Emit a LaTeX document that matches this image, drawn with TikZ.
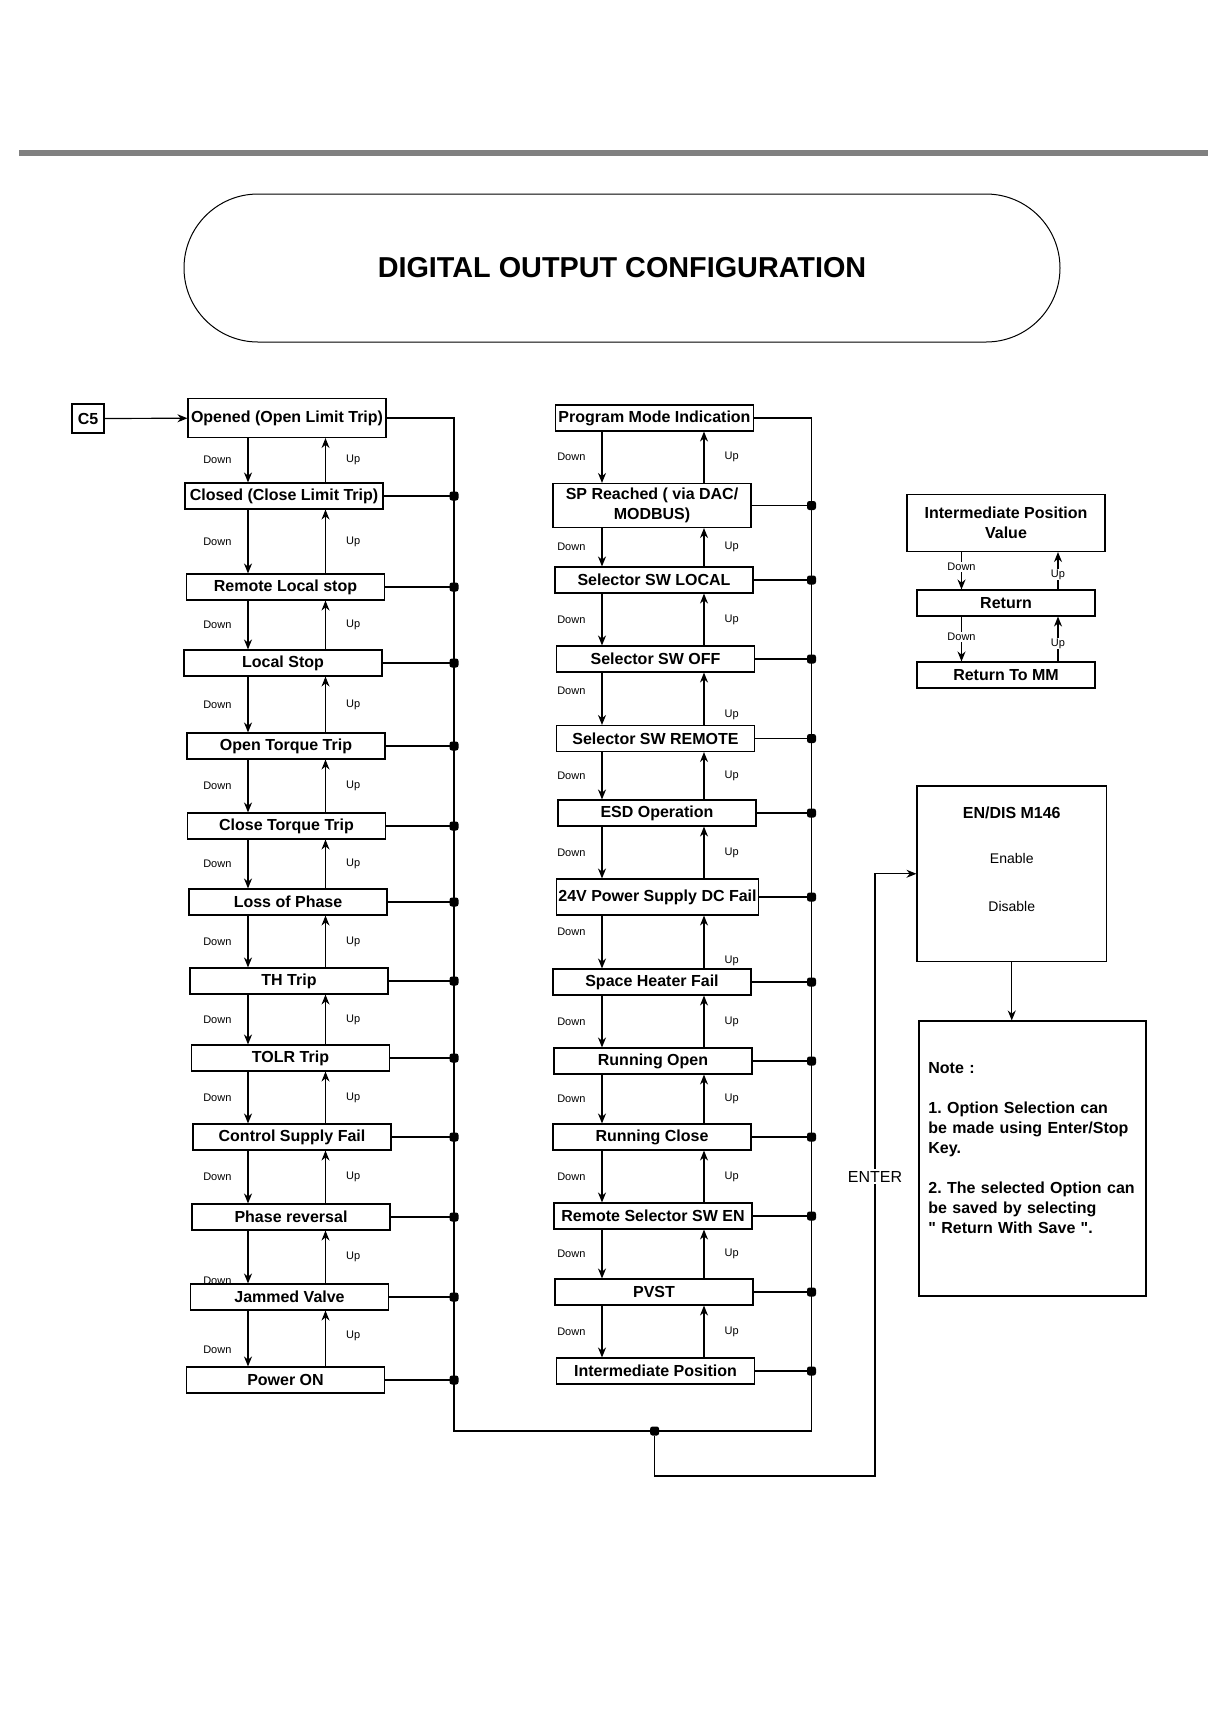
\documentclass[tikz,border=0pt]{standalone}
\usepackage{fontspec}
\setmainfont{Liberation Sans}
\usetikzlibrary{arrows.meta}
\definecolor{bargray}{HTML}{808080}
\tikzset{
  dobox/.style={
    draw,
    line width=0.55pt,
    minimum width=99pt,
    minimum height=13pt,
    inner sep=1pt,
    align=center,
    font=\fontsize{8}{10}\selectfont\bfseries
  },
  smallbox/.style={
    dobox,
    minimum width=89pt
  },
  keylbl/.style={
    font=\fontsize{5.5}{6}\selectfont,
    inner sep=1pt
  },
  dnlbl/.style={keylbl, midway, left=7pt},
  uplbl/.style={keylbl, midway, right=9pt},
  onlbl/.style={keylbl, fill=white, inner sep=0.5pt},
  busdot/.style={
    fill,
    rectangle,
    rounded corners=1.2pt,
    minimum size=4.5pt,
    inner sep=0pt
  },
  navarrow/.style={
    -{Stealth[length=5pt,width=4pt]},
    line width=0.6pt
  },
  busline/.style={line width=0.6pt}
}

\begin{document}
\begin{tikzpicture}[x=0.5pt, y=-0.5pt]
    \useasboundingbox (0,0) rectangle (1227,1720);

    % header
    \draw[bargray, line width=2.7pt] (19,153) -- (1208,153);
    \node[draw, line width=0.5pt, minimum width=438pt, minimum height=74pt,
          rounded corners=37pt, font=\fontsize{14.4}{17}\selectfont\bfseries]
        (title) at (622,268) {DIGITAL OUTPUT CONFIGURATION};

    % helper coordinates
    \coordinate (ldown) at (248,0);
    \coordinate (lup) at (325.5,0);
    \coordinate (mdown) at (602,0);
    \coordinate (mup) at (704,0);
    \coordinate (rdown) at (961.5,0);
    \coordinate (rup) at (1058,0);
    \coordinate (lbus) at (454,1431);
    \coordinate (rbus) at (811.5,1431);
    \coordinate (jn) at (654.6,1431);

    % left column
    \node[dobox, minimum width=16pt, minimum height=14.5pt, inner sep=1.5pt] (c5) at (88,418.5) {C5};
    \node[dobox, minimum height=19.5pt] (opened) at (287,418) {Opened (Open Limit Trip)};
    \node[dobox] (closed) at (284,496) {Closed (Close Limit Trip)};
    \node[dobox] (remstop) at (285.5,587) {Remote Local stop};
    \node[dobox] (locstop) at (283,663) {Local Stop};
    \node[dobox] (opentrq) at (286,746) {Open Torque Trip};
    \node[dobox] (closetrq) at (286.5,826) {Close Torque Trip};
    \node[dobox] (lossph) at (288,902) {Loss of Phase};
    \node[dobox] (thtrip) at (289,981) {TH Trip};
    \node[dobox] (tolr) at (290.5,1058) {TOLR Trip};
    \node[dobox] (ctrlsup) at (292,1137) {Control Supply Fail};
    \node[dobox] (phrev) at (291,1217) {Phase reversal};
    \node[dobox] (jammed) at (289.5,1297) {Jammed Valve};
    \node[dobox] (poweron) at (285.5,1380) {Power ON};

    % middle column
    \node[dobox] (prog) at (654.5,418) {Program Mode Indication};
    \node[dobox, minimum height=22pt] (spreach) at (652,505.5) {SP Reached ( via DAC/\\MODBUS)};
    \node[dobox] (swlocal) at (654,580) {Selector SW LOCAL};
    \node[dobox] (swoff) at (655.5,659) {Selector SW OFF};
    \node[dobox] (swremote) at (655.5,738.5) {Selector SW REMOTE};
    \node[dobox] (esd) at (657,813) {ESD Operation};
    \node[dobox, minimum height=18pt] (psfail) at (657.5,897) {24V Power Supply DC Fail};
    \node[dobox] (heater) at (652,982) {Space Heater Fail};
    \node[dobox] (runopen) at (653,1061) {Running Open};
    \node[dobox] (runclose) at (652,1137) {Running Close};
    \node[dobox] (rsen) at (653,1216) {Remote Selector SW EN};
    \node[dobox] (pvst) at (654,1292) {PVST};
    \node[dobox] (intpos) at (655.5,1371) {Intermediate Position};

    % right side
    \node[dobox, minimum height=28.5pt] (ipval) at (1006,523) {Intermediate Position\\Value};
    \node[smallbox] (ret) at (1006,603) {Return};
    \node[smallbox] (retmm) at (1006,675) {Return To MM};
    \node[draw, line width=0.55pt, minimum width=94.75pt, minimum height=87.75pt] (endis) at (1011.75,873.75) {};
    \node[font=\fontsize{8}{10}\selectfont\bfseries] (endistitle) at (1011.75,813) {EN/DIS M146};
    \node[font=\fontsize{7}{9}\selectfont] (enable) at (1011.75,858) {Enable};
    \node[font=\fontsize{7}{9}\selectfont] (disable) at (1011.75,906) {Disable};
    \node[draw, line width=0.55pt, minimum width=113.5pt, minimum height=137.5pt] (note) at (1032.5,1158.5) {};
    \node[text width=105pt, align=left, inner sep=0pt, anchor=north west,
          font=\fontsize{8}{10}\selectfont\bfseries\frenchspacing] (notetext) at (928,1062) {%
        Note :\\[10pt]
        1. Option Selection can\\
        be made using Enter/Stop\\
        Key.\\[10pt]
        2. The selected Option can\\
        be saved by selecting\\
        \textquotedbl{} Return With Save \textquotedbl.};
    \node[font=\fontsize{8}{10}\selectfont, fill=white, inner sep=1pt] (enter) at (875,1176.5) {ENTER};

    % entry
    \draw[navarrow] (c5) -- (opened);

    % left column keys
    \draw[navarrow] (opened.south -| ldown) -- node[dnlbl]{Down} (closed.north -| ldown);
    \draw[navarrow] (closed.north -| lup) -- node[uplbl]{Up} (opened.south -| lup);
    \draw[navarrow] (closed.south -| ldown) -- node[dnlbl]{Down} (remstop.north -| ldown);
    \draw[navarrow] (remstop.north -| lup) -- node[uplbl]{Up} (closed.south -| lup);
    \draw[navarrow] (remstop.south -| ldown) -- node[dnlbl]{Down} (locstop.north -| ldown);
    \draw[navarrow] (locstop.north -| lup) -- node[uplbl]{Up} (remstop.south -| lup);
    \draw[navarrow] (locstop.south -| ldown) -- node[dnlbl]{Down} (opentrq.north -| ldown);
    \draw[navarrow] (opentrq.north -| lup) -- node[uplbl]{Up} (locstop.south -| lup);
    \draw[navarrow] (opentrq.south -| ldown) -- node[dnlbl]{Down} (closetrq.north -| ldown);
    \draw[navarrow] (closetrq.north -| lup) -- node[uplbl]{Up} (opentrq.south -| lup);
    \draw[navarrow] (closetrq.south -| ldown) -- node[dnlbl]{Down} (lossph.north -| ldown);
    \draw[navarrow] (lossph.north -| lup) -- node[uplbl]{Up} (closetrq.south -| lup);
    \draw[navarrow] (lossph.south -| ldown) -- node[dnlbl]{Down} (thtrip.north -| ldown);
    \draw[navarrow] (thtrip.north -| lup) -- node[uplbl]{Up} (lossph.south -| lup);
    \draw[navarrow] (thtrip.south -| ldown) -- node[dnlbl]{Down} (tolr.north -| ldown);
    \draw[navarrow] (tolr.north -| lup) -- node[uplbl]{Up} (thtrip.south -| lup);
    \draw[navarrow] (tolr.south -| ldown) -- node[dnlbl]{Down} (ctrlsup.north -| ldown);
    \draw[navarrow] (ctrlsup.north -| lup) -- node[uplbl]{Up} (tolr.south -| lup);
    \draw[navarrow] (ctrlsup.south -| ldown) -- node[dnlbl]{Down} (phrev.north -| ldown);
    \draw[navarrow] (phrev.north -| lup) -- node[uplbl]{Up} (ctrlsup.south -| lup);
    \draw[navarrow] (phrev.south -| ldown) -- node[dnlbl, pos=0.95]{Down} (jammed.north -| ldown);
    \draw[navarrow] (jammed.north -| lup) -- node[uplbl]{Up} (phrev.south -| lup);
    \draw[navarrow] (jammed.south -| ldown) -- node[dnlbl, pos=0.7]{Down} (poweron.north -| ldown);
    \draw[navarrow] (poweron.north -| lup) -- node[uplbl, pos=0.55]{Up} (jammed.south -| lup);

    % middle column keys
    \draw[navarrow] (prog.south -| mdown) -- node[dnlbl]{Down} (spreach.north -| mdown);
    \draw[navarrow] (spreach.north -| mup) -- node[uplbl]{Up} (prog.south -| mup);
    \draw[navarrow] (spreach.south -| mdown) -- node[dnlbl]{Down} (swlocal.north -| mdown);
    \draw[navarrow] (swlocal.north -| mup) -- node[uplbl]{Up} (spreach.south -| mup);
    \draw[navarrow] (swlocal.south -| mdown) -- node[dnlbl]{Down} (swoff.north -| mdown);
    \draw[navarrow] (swoff.north -| mup) -- node[uplbl]{Up} (swlocal.south -| mup);
    \draw[navarrow] (swoff.south -| mdown) -- node[dnlbl, pos=0.35]{Down} (swremote.north -| mdown);
    \draw[navarrow] (swremote.north -| mup) -- node[uplbl, pos=0.2]{Up} (swoff.south -| mup);
    \draw[navarrow] (swremote.south -| mdown) -- node[dnlbl]{Down} (esd.north -| mdown);
    \draw[navarrow] (esd.north -| mup) -- node[uplbl]{Up} (swremote.south -| mup);
    \draw[navarrow] (esd.south -| mdown) -- node[dnlbl]{Down} (psfail.north -| mdown);
    \draw[navarrow] (psfail.north -| mup) -- node[uplbl]{Up} (esd.south -| mup);
    \draw[navarrow] (psfail.south -| mdown) -- node[dnlbl, pos=0.3]{Down} (heater.north -| mdown);
    \draw[navarrow] (heater.north -| mup) -- node[uplbl, pos=0.15]{Up} (psfail.south -| mup);
    \draw[navarrow] (heater.south -| mdown) -- node[dnlbl]{Down} (runopen.north -| mdown);
    \draw[navarrow] (runopen.north -| mup) -- node[uplbl]{Up} (heater.south -| mup);
    \draw[navarrow] (runopen.south -| mdown) -- node[dnlbl]{Down} (runclose.north -| mdown);
    \draw[navarrow] (runclose.north -| mup) -- node[uplbl]{Up} (runopen.south -| mup);
    \draw[navarrow] (runclose.south -| mdown) -- node[dnlbl]{Down} (rsen.north -| mdown);
    \draw[navarrow] (rsen.north -| mup) -- node[uplbl]{Up} (runclose.south -| mup);
    \draw[navarrow] (rsen.south -| mdown) -- node[dnlbl]{Down} (pvst.north -| mdown);
    \draw[navarrow] (pvst.north -| mup) -- node[uplbl]{Up} (rsen.south -| mup);
    \draw[navarrow] (pvst.south -| mdown) -- node[dnlbl]{Down} (intpos.north -| mdown);
    \draw[navarrow] (intpos.north -| mup) -- node[uplbl]{Up} (pvst.south -| mup);

    % right keys
    \draw[navarrow] (ipval.south -| rdown) -- node[onlbl, pos=0.4]{Down} (ret.north -| rdown);
    \draw[navarrow] (ret.north -| rup) -- node[onlbl, pos=0.4]{Up} (ipval.south -| rup);
    \draw[navarrow] (ret.south -| rdown) -- node[onlbl, pos=0.45]{Down} (retmm.north -| rdown);
    \draw[navarrow] (retmm.north -| rup) -- node[onlbl, pos=0.4]{Up} (ret.south -| rup);

    % buses
    \draw[busline] (opened.east) -| (lbus) -- (rbus) |- (prog.east);
    \draw[busline] (closed.east) -- (closed.east -| lbus) node[busdot] (d1) {};
    \draw[busline] (remstop.east) -- (remstop.east -| lbus) node[busdot] (d2) {};
    \draw[busline] (locstop.east) -- (locstop.east -| lbus) node[busdot] (d3) {};
    \draw[busline] (opentrq.east) -- (opentrq.east -| lbus) node[busdot] (d4) {};
    \draw[busline] (closetrq.east) -- (closetrq.east -| lbus) node[busdot] (d5) {};
    \draw[busline] (lossph.east) -- (lossph.east -| lbus) node[busdot] (d6) {};
    \draw[busline] (thtrip.east) -- (thtrip.east -| lbus) node[busdot] (d7) {};
    \draw[busline] (tolr.east) -- (tolr.east -| lbus) node[busdot] (d8) {};
    \draw[busline] (ctrlsup.east) -- (ctrlsup.east -| lbus) node[busdot] (d9) {};
    \draw[busline] (phrev.east) -- (phrev.east -| lbus) node[busdot] (d10) {};
    \draw[busline] (jammed.east) -- (jammed.east -| lbus) node[busdot] (d11) {};
    \draw[busline] (poweron.east) -- (poweron.east -| lbus) node[busdot] (d12) {};
    \draw[busline] (spreach.east) -- (spreach.east -| rbus) node[busdot] (m1) {};
    \draw[busline] (swlocal.east) -- (swlocal.east -| rbus) node[busdot] (m2) {};
    \draw[busline] (swoff.east) -- (swoff.east -| rbus) node[busdot] (m3) {};
    \draw[busline] (swremote.east) -- (swremote.east -| rbus) node[busdot] (m4) {};
    \draw[busline] (esd.east) -- (esd.east -| rbus) node[busdot] (m5) {};
    \draw[busline] (psfail.east) -- (psfail.east -| rbus) node[busdot] (m6) {};
    \draw[busline] (heater.east) -- (heater.east -| rbus) node[busdot] (m7) {};
    \draw[busline] (runopen.east) -- (runopen.east -| rbus) node[busdot] (m8) {};
    \draw[busline] (runclose.east) -- (runclose.east -| rbus) node[busdot] (m9) {};
    \draw[busline] (rsen.east) -- (rsen.east -| rbus) node[busdot] (m10) {};
    \draw[busline] (pvst.east) -- (pvst.east -| rbus) node[busdot] (m11) {};
    \draw[busline] (intpos.east) -- (intpos.east -| rbus) node[busdot] (m12) {};
    \node[busdot] (jdot) at (jn) {};

    % enter path
    \draw[busline] (jdot) -- ++(0,45) -| (enter.south);
    \draw[navarrow] (enter.north) |- (endis.west);
    \draw[navarrow] (endis.south) -- (endis.south |- note.north);
\end{tikzpicture}
\end{document}
